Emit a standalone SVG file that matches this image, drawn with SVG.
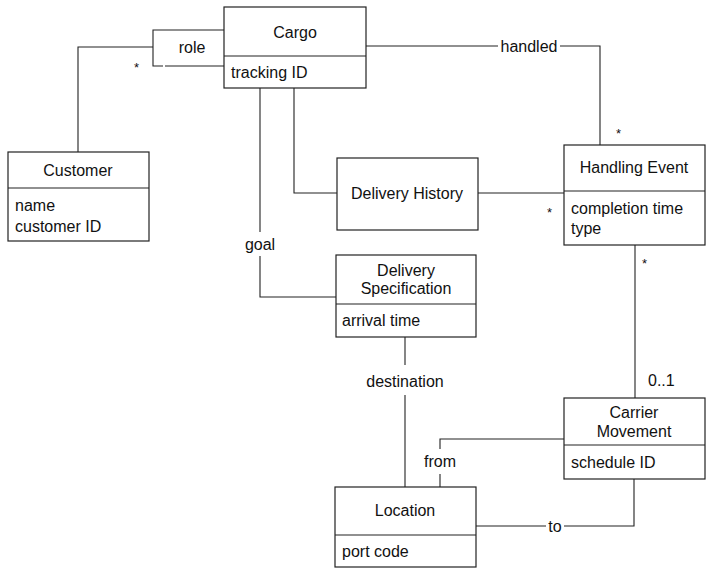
<svg xmlns="http://www.w3.org/2000/svg" width="712" height="572" viewBox="0 0 712 572">
<style>
text{font-family:"Liberation Sans",Arial,sans-serif;font-size:16px;fill:#111}
.c{text-anchor:middle}
.box{fill:#fff;stroke:#222;stroke-width:1.2}
.div{stroke:#222;stroke-width:1.2;fill:none}
.ln{stroke:#222;stroke-width:1.1;fill:none}
</style>
<rect width="712" height="572" fill="#fff"/>
<g id="connectors">
<polyline class="ln" points="78,152 78,47 153,47"/>
<polyline class="ln" points="224,30 153,30 153,66 163,66"/>
<line class="ln" x1="165" y1="66" x2="224" y2="66"/>
<text class="c" x="192" y="53">role</text>
<text x="134" y="72" style="font-size:13px">*</text>
<polyline class="ln" points="366,46 498,46"/>
<polyline class="ln" points="560,46 600,46 600,145"/>
<text class="c" x="529" y="52">handled</text>
<text x="616" y="138" style="font-size:13px">*</text>
<polyline class="ln" points="294,88 294,193 337,193"/>
<line class="ln" x1="478" y1="193" x2="564" y2="193"/>
<text x="547" y="217" style="font-size:13px">*</text>
<line class="ln" x1="260" y1="88" x2="260" y2="232"/>
<polyline class="ln" points="260,256 260,297 336,297"/>
<text class="c" x="260" y="250">goal</text>
<line class="ln" x1="635" y1="245" x2="635" y2="398"/>
<text x="642" y="268" style="font-size:13px">*</text>
<text x="648" y="386">0..1</text>
<line class="ln" x1="405" y1="337" x2="405" y2="365"/>
<line class="ln" x1="405" y1="395" x2="405" y2="487"/>
<text class="c" x="405" y="387">destination</text>
<polyline class="ln" points="564,439 440,439 440,449"/>
<line class="ln" x1="440" y1="474" x2="440" y2="487"/>
<text class="c" x="440" y="467">from</text>
<polyline class="ln" points="476,526 546,526"/>
<polyline class="ln" points="564,526 634,526 634,479"/>
<text class="c" x="555" y="532">to</text>
</g>
<g id="cargo">
<rect class="box" x="224" y="7" width="142" height="81"/>
<line class="div" x1="224" y1="56" x2="366" y2="56"/>
<text class="c" x="295" y="38">Cargo</text>
<text x="231" y="78">tracking ID</text>
</g>
<g id="customer">
<rect class="box" x="8" y="152" width="141" height="89"/>
<line class="div" x1="8" y1="188" x2="149" y2="188"/>
<text class="c" x="78" y="176">Customer</text>
<text x="15" y="211">name</text>
<text x="15" y="232">customer ID</text>
</g>
<g id="delivery-history">
<rect class="box" x="337" y="158" width="141" height="72"/>
<text class="c" x="407" y="199">Delivery History</text>
</g>
<g id="handling-event">
<rect class="box" x="564" y="145" width="141" height="100"/>
<line class="div" x1="564" y1="191" x2="705" y2="191"/>
<text class="c" x="634" y="173">Handling Event</text>
<text x="571" y="214">completion time</text>
<text x="571" y="234">type</text>
</g>
<g id="delivery-specification">
<rect class="box" x="336" y="255" width="140" height="82"/>
<line class="div" x1="336" y1="304" x2="476" y2="304"/>
<text class="c" x="406" y="276">Delivery</text>
<text class="c" x="406" y="294">Specification</text>
<text x="342" y="326">arrival time</text>
</g>
<g id="carrier-movement">
<rect class="box" x="564" y="398" width="141" height="81"/>
<line class="div" x1="564" y1="445" x2="705" y2="445"/>
<text class="c" x="634" y="418">Carrier</text>
<text class="c" x="634" y="437">Movement</text>
<text x="571" y="468">schedule ID</text>
</g>
<g id="location">
<rect class="box" x="335" y="487" width="141" height="80"/>
<line class="div" x1="335" y1="535" x2="476" y2="535"/>
<text class="c" x="405" y="516">Location</text>
<text x="342" y="557">port code</text>
</g>
</svg>
